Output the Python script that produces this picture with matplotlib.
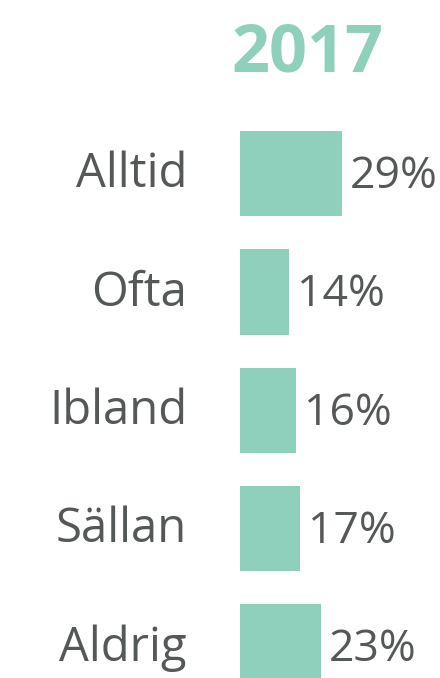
import matplotlib
matplotlib.use('Agg')
from matplotlib import pyplot as plt

categories = ['Alltid', 'Ofta', 'Ibland', 'Sällan', 'Aldrig']
values = [29, 14, 16, 17, 23]
value_labels = ['29%', '14%', '16%', '17%', '23%']
title = '2017'

teal = '#8fd0bc'
grey = '#555859'

plt.rcParams['font.family'] = ['Open Sans', 'DejaVu Sans']

fig = plt.figure(figsize=(4.4, 6.78), dpi=100)
# axes starts where the bars start, 3.5 px per percent
ax = fig.add_axes([240 / 440, 0, 200 / 440, 1])
ax.set_xlim(0, 200 / 3.5)
ax.set_ylim((678 - 173.5) / 118.4, -173.5 / 118.4)
ax.axis('off')

ypos = list(range(len(categories)))
ax.barh(ypos, values, height=0.72, color=teal)

for y, v, cat, lab in zip(ypos, values, categories, value_labels):
    ax.text(-53 / 3.5, y + 0.115, cat, ha='right', va='baseline',
            fontsize=34, color=grey, clip_on=False)
    ax.text(v + 8 / 3.5, y + 0.12, lab, ha='left', va='baseline',
            fontsize=32, color=grey, clip_on=False)

fig.text(307 / 440, 1 - 71 / 678, title, ha='center', va='baseline',
         fontsize=48, fontweight='bold', color=teal)

fig.savefig('out.png', dpi=100, facecolor='white')
